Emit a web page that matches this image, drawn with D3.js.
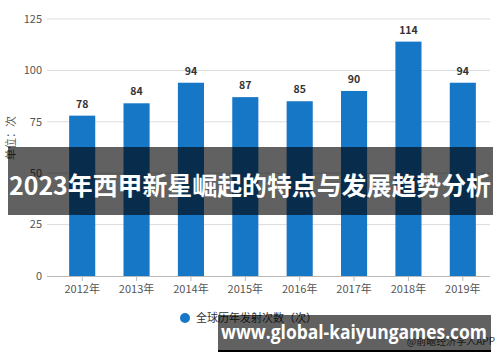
<!DOCTYPE html>
<html>
<head>
<meta charset="utf-8">
<script src="https://cdn.jsdelivr.net/npm/d3@7"></script>
<style>
  body { margin: 0; background: #fff; }
  svg { display: block; font-family: "Noto Sans CJK SC", "Noto Sans", sans-serif; }
</style>
</head>
<body>
<svg id="chart" width="500" height="362"></svg>
<script>
// data
const years = ["2012年", "2013年", "2014年", "2015年", "2016年", "2017年", "2018年", "2019年"];
const launches = [78, 84, 94, 87, 85, 90, 114, 94];
const yTicks = [0, 25, 50, 75, 100, 125];

const svg = d3.select("#chart");
const margin = { left: 47, right: 10, top: 19, bottom: 86 };

const x = d3.scaleBand()
  .domain(years)
  .range([55, 490])
  .paddingInner(0.52)
  .paddingOuter(0.26);

const y = d3.scaleLinear()
  .domain([0, 125])
  .range([276, 19]);

// gridlines
svg.append("g")
  .selectAll("line")
  .data(yTicks.filter(d => d > 0))
  .join("line")
  .attr("x1", margin.left)
  .attr("x2", 490)
  .attr("y1", d => y(d))
  .attr("y2", d => y(d))
  .attr("stroke", "#dcdcdc")
  .attr("stroke-width", 1);

// y labels
svg.append("g")
  .selectAll("text")
  .data(yTicks)
  .join("text")
  .attr("x", 42)
  .attr("y", d => y(d))
  .attr("dy", "0.35em")
  .attr("text-anchor", "end")
  .attr("font-size", 11)
  .attr("fill", "#555")
  .text(d => d);

// y axis title (partly under the banner, as in the original)
svg.append("text")
  .attr("transform", "translate(15,138) rotate(-90)")
  .attr("text-anchor", "middle")
  .attr("font-size", 11)
  .attr("fill", "#555")
  .text("单位：次");

// bars
svg.append("g")
  .selectAll("rect")
  .data(launches)
  .join("rect")
  .attr("x", (d, i) => x(years[i]))
  .attr("y", d => y(d))
  .attr("width", x.bandwidth())
  .attr("height", d => y(0) - y(d))
  .attr("fill", "#1677c7");

// value labels
svg.append("g")
  .selectAll("text")
  .data(launches)
  .join("text")
  .attr("x", (d, i) => x(years[i]) + x.bandwidth() / 2)
  .attr("y", d => y(d) - 8)
  .attr("text-anchor", "middle")
  .attr("font-size", 10.5)
  .attr("font-weight", "bold")
  .attr("fill", "#333")
  .text(d => d);

// x axis
const xAxis = svg.append("g")
  .attr("transform", `translate(0,${y(0)})`)
  .call(d3.axisBottom(x).tickSize(5).tickPadding(4));
xAxis.select(".domain").attr("d", `M${margin.left},0.5H490`).attr("stroke", "#bbb");
xAxis.selectAll(".tick line").attr("stroke", "#bbb");
xAxis.selectAll("text")
  .attr("font-size", 11)
  .attr("fill", "#555")
  .attr("font-family", "\"Noto Sans CJK SC\", sans-serif");

// legend
svg.append("circle").attr("cx", 185).attr("cy", 318).attr("r", 5).attr("fill", "#1677c7");
svg.append("text")
  .attr("x", 196).attr("y", 318).attr("dy", "0.35em")
  .attr("font-size", 11).attr("fill", "#333")
  .text("全球历年发射次数（次）");

// source
svg.append("text")
  .attr("x", 495).attr("y", 341).attr("dy", "0.35em")
  .attr("text-anchor", "end")
  .attr("font-size", 10).attr("fill", "#444")
  .text("@前瞻经济学人APP");

// title banner
svg.append("rect")
  .attr("x", 8).attr("y", 147)
  .attr("width", 485).attr("height", 68)
  .attr("fill", "#000").attr("fill-opacity", 0.62);
svg.append("text")
  .attr("x", 250).attr("y", 186).attr("dy", "0.35em")
  .attr("text-anchor", "middle")
  .attr("font-size", 25).attr("font-weight", "bold")
  .attr("fill", "#fff")
  .attr("textLength", 482).attr("lengthAdjust", "spacingAndGlyphs")
  .text("2023年西甲新星崛起的特点与发展趋势分析");

// url banner
svg.append("rect")
  .attr("x", 218).attr("y", 315)
  .attr("width", 273).attr("height", 36)
  .attr("fill", "#000").attr("fill-opacity", 0.62);
svg.append("rect")
  .attr("x", 218).attr("y", 350)
  .attr("width", 273).attr("height", 2)
  .attr("fill", "#000");
svg.append("text")
  .attr("x", 354).attr("y", 332).attr("dy", "0.35em")
  .attr("text-anchor", "middle")
  .attr("font-size", 19).attr("font-weight", "bold")
  .attr("fill", "#fff")
  .attr("font-family", "\"Open Sans\", \"Noto Sans\", sans-serif")
  .attr("textLength", 266).attr("lengthAdjust", "spacingAndGlyphs")
  .text("www.global-kaiyungames.com");
</script>
</body>
</html>
